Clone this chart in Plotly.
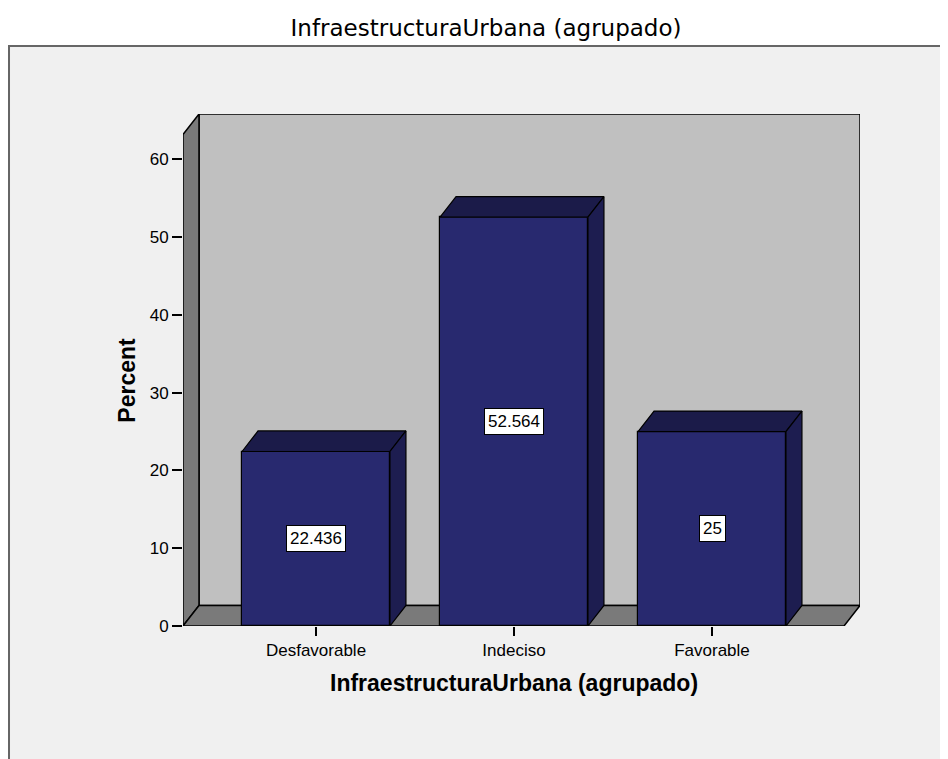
import plotly.graph_objects as go

# Chart data (percent per group).
categories = ["Desfavorable", "Indeciso", "Favorable"]
percents = [22.436, 52.564, 25.0]
value_labels = ["22.436", "52.564", "25"]
y_ticks = [0, 10, 20, 30, 40, 50, 60]

# Plot box geometry (axis units).
x_lo, x_hi = -0.6717, 2.7475
y_top = 65.83
depth_x = 0.0808
depth_y = 2.64
bar_width = 0.747

front_color = "#28296F"
top_color = "#1B1B49"
side_color = "#1D1D50"
edge = dict(color="black", width=1.2)

xs = list(range(len(categories)))

fig = go.Figure()

# Front faces of the bars.
fig.add_trace(go.Bar(x=xs, y=percents, width=bar_width,
                     marker=dict(color=front_color, line=edge),
                     hoverinfo="skip", showlegend=False))

# Top and side faces give the 3D look.
for x, v in zip(xs, percents):
    left = x - bar_width / 2
    right = x + bar_width / 2
    fig.add_trace(go.Scatter(
        x=[left, left + depth_x, right + depth_x, right, left],
        y=[v, v + depth_y, v + depth_y, v, v],
        fill="toself", fillcolor=top_color, mode="lines", line=edge,
        hoverinfo="skip", showlegend=False))
    fig.add_trace(go.Scatter(
        x=[right, right, right + depth_x, right + depth_x, right],
        y=[0, v, v + depth_y, depth_y, 0],
        fill="toself", fillcolor=side_color, mode="lines", line=edge,
        hoverinfo="skip", showlegend=False))

# Value labels in the middle of each bar.
for x, v, lab in zip(xs, percents, value_labels):
    fig.add_annotation(x=x, y=v / 2, text=lab, showarrow=False,
                       bgcolor="white", bordercolor="black", borderwidth=1,
                       borderpad=3,
                       font=dict(family="Liberation Sans", size=17,
                                 color="black"))

# Panel behind the chart.
fig.add_shape(type="rect", xref="paper", yref="paper",
              x0=-0.257, x1=1.3, y0=-0.6, y1=1.1328,
              fillcolor="#F0F0F0", line=dict(color="#666666", width=2),
              layer="below")

# Back wall, left wall and floor.
fig.add_shape(type="rect", x0=x_lo + depth_x, x1=x_hi, y0=depth_y, y1=y_top,
              fillcolor="#C0C0C0", line=dict(color="black", width=1.5),
              layer="below")
fig.add_shape(type="path",
              path=(f"M {x_lo},0 L {x_lo + depth_x},{depth_y} "
                    f"L {x_lo + depth_x},{y_top} L {x_lo},{y_top - depth_y} Z"),
              fillcolor="#7A7A7A", line=dict(color="black", width=1.5),
              layer="below")
fig.add_shape(type="path",
              path=(f"M {x_lo},0 L {x_hi - depth_x},0 "
                    f"L {x_hi},{depth_y} L {x_lo + depth_x},{depth_y} Z"),
              fillcolor="#7A7A7A", line=dict(color="black", width=1.5),
              layer="below")

# Axis titles.
fig.add_annotation(text="<b>InfraestructuraUrbana (agrupado)</b>",
                   xref="paper", yref="paper", x=0.4889, y=-0.1113,
                   xanchor="center", yanchor="middle", showarrow=False,
                   font=dict(family="Liberation Sans", size=23, color="black"))
fig.add_annotation(text="<b>Percent</b>", textangle=-90,
                   xref="paper", yref="paper", x=-0.0832, y=0.4805,
                   xanchor="center", yanchor="middle", showarrow=False,
                   font=dict(family="Liberation Sans", size=23, color="black"))

# The page adds an 8px body margin, so the figure is trimmed to fit.
fig.update_layout(
    width=940, height=751,
    margin=dict(l=175, r=88, t=106, b=133),
    paper_bgcolor="white",
    plot_bgcolor="rgba(0,0,0,0)",
    title=dict(text="InfraestructuraUrbana (agrupado)",
               x=0.4476, xref="paper", xanchor="center",
               y=1 - 20 / 751, yref="container", yanchor="middle",
               font=dict(family="DejaVu Sans", size=23, color="black")),
    xaxis=dict(range=[x_lo, x_hi], tickvals=xs, ticktext=categories,
               showgrid=False, zeroline=False, showline=False,
               ticks="outside", ticklen=9, tickcolor="black", tickwidth=1.5,
               tickfont=dict(family="Liberation Sans", size=17,
                             color="black")),
    yaxis=dict(range=[0, y_top], tickvals=y_ticks,
               showgrid=False, zeroline=False, showline=False,
               ticks="outside", ticklen=10, tickcolor="black", tickwidth=1.5,
               tickfont=dict(family="Liberation Sans", size=17,
                             color="black")),
    bargap=0,
)

fig.write_html("out.html")
